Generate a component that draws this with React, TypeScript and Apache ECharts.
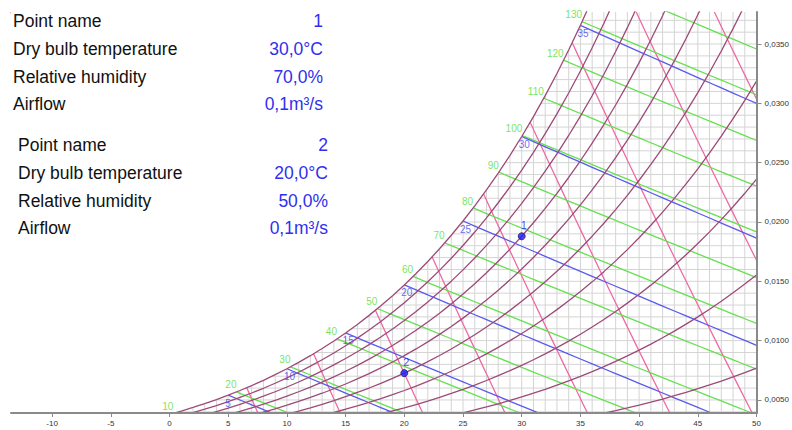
import { useEffect, useRef } from 'react';
import * as echarts from 'echarts';

// Barometric pressure used for all psychrometric relations (kPa)
const PRESSURE_KPA = 101.325;

// Saturation vapour pressure of water over liquid, 0..50 °C (kPa)
const TEMPS_C = [
  0, 1, 2, 3, 4, 5, 6, 7, 8, 9, 10, 11, 12, 13, 14, 15, 16, 17, 18, 19, 20, 21, 22, 23, 24, 25,
  26, 27, 28, 29, 30, 31, 32, 33, 34, 35, 36, 37, 38, 39, 40, 41, 42, 43, 44, 45, 46, 47, 48, 49, 50,
];
const SAT_PRESSURE_KPA = [
  0.6112, 0.6571, 0.706, 0.7581, 0.8135, 0.8725, 0.9353, 1.002, 1.0728, 1.1481, 1.228, 1.3127,
  1.4026, 1.4978, 1.5987, 1.7055, 1.8184, 1.938, 2.0643, 2.1978, 2.3388, 2.4877, 2.6448, 2.8104,
  2.9851, 3.1692, 3.3631, 3.5673, 3.7822, 4.0083, 4.246, 4.4959, 4.7585, 5.0343, 5.3239, 5.6278,
  5.9466, 6.281, 6.6315, 6.9987, 7.3835, 7.7863, 8.208, 8.6492, 9.1107, 9.5932, 10.0976, 10.6246,
  11.1751, 11.75, 12.3499,
];

// Families of chart lines
const RH_LEVELS = [10, 20, 30, 40, 50, 60, 70, 80, 90, 100]; // %
const ENTHALPY_LEVELS = [10, 20, 30, 40, 50, 60, 70, 80, 90, 100, 110, 120, 130, 140]; // kJ/kg
const WET_BULB_LEVELS = [5, 10, 15, 20, 25, 30, 35]; // °C
const VOLUME_LEVELS = [0.78, 0.8, 0.82, 0.84, 0.86, 0.88, 0.9, 0.92, 0.94, 0.96]; // m³/kg

// Air state points
const POINT_NAMES = ['1', '2'];
const POINT_DRY_BULB = [30, 20]; // °C
const POINT_RH = [70, 50]; // %
const POINT_AIRFLOW = [0.1, 0.1]; // m³/s

// Axes
const X_TICKS = [-10, -5, 0, 5, 10, 15, 20, 25, 30, 35, 40, 45, 50];
const Y_TICKS = [0.005, 0.01, 0.015, 0.02, 0.025, 0.03, 0.035];
const X_MIN = -13.5;
const X_MAX = 50;
const Y_MIN = 0.0039;
const Y_MAX = 0.0377;

const COLORS = {
  grid: '#d4d4d4',
  axis: '#8a8a8a',
  rh: '#9c4a78',
  enthalpy: '#66e050',
  enthalpyText: '#55dd33',
  wetBulb: '#5a5af0',
  wetBulbText: '#4646ee',
  volume: '#ee6aa2',
  point: '#1a1aff',
  value: '#2f2ff0',
};

const humidityRatio = (pv: number) => (0.622 * pv) / (PRESSURE_KPA - pv);
const enthalpy = (t: number, w: number) => 1.006 * t + w * (2501 + 1.86 * t);
const wFromEnthalpy = (h: number, t: number) => (h - 1.006 * t) / (2501 + 1.86 * t);
const wOnWetBulb = (t: number, twb: number, wsWb: number) =>
  ((2501 - 2.326 * twb) * wsWb - 1.006 * (t - twb)) / (2501 + 1.86 * t - 4.186 * twb);
const tOnVolume = (v: number, w: number) => (v * PRESSURE_KPA) / (0.287 * (1 + 1.6078 * w)) - 273.15;

const W_SAT = SAT_PRESSURE_KPA.map(humidityRatio);
const H_SAT = TEMPS_C.map((t, i) => enthalpy(t, W_SAT[i]));

// Where an enthalpy line leaves the saturation curve
function enthalpyStart(h: number): [number, number] | null {
  for (let i = 0; i < TEMPS_C.length - 1; i++) {
    if (h >= H_SAT[i] && h <= H_SAT[i + 1]) {
      const f = (h - H_SAT[i]) / (H_SAT[i + 1] - H_SAT[i]);
      const t = TEMPS_C[i] + f * (TEMPS_C[i + 1] - TEMPS_C[i]);
      return [t, wFromEnthalpy(h, t)];
    }
  }
  return null;
}

const fmt = (v: number, d: number) => v.toFixed(d).replace('.', ',');

function buildOption() {
  const series: any[] = [];

  // Fine 1 °C x 0.001 kg/kg grid
  const gridLines: number[][] = [];
  for (let t = Math.ceil(X_MIN); t <= X_MAX; t++) gridLines.push([t, Y_MIN, t, Y_MAX]);
  for (let k = Math.ceil(Y_MIN * 1000); k <= Math.floor(Y_MAX * 1000); k++)
    gridLines.push([X_MIN, k / 1000, X_MAX, k / 1000]);
  series.push({
    type: 'custom',
    z: 1,
    silent: true,
    clip: true,
    data: gridLines,
    encode: { x: [0, 2], y: [1, 3] },
    renderItem: (_p: any, api: any) => {
      const a = api.coord([api.value(0), api.value(1)]);
      const b = api.coord([api.value(2), api.value(3)]);
      return {
        type: 'line',
        shape: { x1: a[0], y1: a[1], x2: b[0], y2: b[1] },
        style: { stroke: COLORS.grid, lineWidth: 1 },
      };
    },
  });

  const lineSeries = (data: number[][], color: string, z: number) => ({
    type: 'line',
    data,
    z,
    silent: true,
    clip: true,
    symbol: 'none',
    showSymbol: false,
    lineStyle: { color, width: 1.3 },
  });

  // Specific volume lines, from the bottom of the plot up to its top edge
  VOLUME_LEVELS.forEach((v) => {
    const pts: number[][] = [];
    for (let k = 3; k < Y_MAX * 1000; k++) {
      const w = k / 1000;
      pts.push([tOnVolume(v, w), w]);
    }
    pts.push([tOnVolume(v, Y_MAX), Y_MAX]);
    series.push(lineSeries(pts, COLORS.volume, 2));
  });

  // Enthalpy lines, starting on the saturation curve
  ENTHALPY_LEVELS.forEach((h) => {
    const start = enthalpyStart(h);
    if (!start) return;
    const pts = [start, ...TEMPS_C.filter((t) => t > start[0]).map((t) => [t, wFromEnthalpy(h, t)])];
    series.push(lineSeries(pts, COLORS.enthalpy, 2));
  });

  // Wet bulb lines
  WET_BULB_LEVELS.forEach((twb) => {
    const ws = W_SAT[TEMPS_C.indexOf(twb)];
    const pts = TEMPS_C.filter((t) => t >= twb).map((t) => [t, wOnWetBulb(t, twb, ws)]);
    series.push(lineSeries(pts, COLORS.wetBulb, 2));
  });

  // Blank out the grid above the saturation curve
  const maskPts: number[][] = [[X_MIN - 1, 1], [X_MIN - 1, 0], [TEMPS_C[0], 0]];
  TEMPS_C.forEach((t, i) => maskPts.push([t, W_SAT[i]]));
  maskPts.push([X_MAX + 1, W_SAT[W_SAT.length - 1]], [X_MAX + 1, 1]);
  series.push({
    type: 'custom',
    z: 3,
    silent: true,
    clip: true,
    data: [[X_MIN, Y_MIN]],
    renderItem: (_p: any, api: any) => ({
      type: 'polygon',
      shape: { points: maskPts.map((p) => api.coord(p)) },
      style: { fill: '#ffffff' },
    }),
  });

  // Relative humidity curves
  RH_LEVELS.forEach((rh) => {
    const pts = TEMPS_C.map((t, i) => [t, humidityRatio((SAT_PRESSURE_KPA[i] * rh) / 100)]);
    series.push(lineSeries(pts, COLORS.rh, 4));
  });

  // Enthalpy labels at the saturation curve
  const hLabels = ENTHALPY_LEVELS.map((h) => ({ h, p: enthalpyStart(h) }))
    .filter((d) => d.p && d.p[1] <= Y_MAX)
    .map((d) => ({ name: String(d.h), value: d.p as number[] }));
  series.push({
    type: 'scatter',
    z: 5,
    silent: true,
    clip: false,
    symbolSize: 0,
    data: hLabels,
    label: {
      show: true,
      formatter: '{b}',
      position: [0, -2],
      align: 'right',
      verticalAlign: 'bottom',
      color: COLORS.enthalpyText,
      fontSize: 10,
    },
  });

  // Wet bulb labels
  series.push({
    type: 'scatter',
    z: 5,
    silent: true,
    clip: false,
    symbolSize: 0,
    data: WET_BULB_LEVELS.map((twb) => ({
      name: String(twb),
      value: [twb, W_SAT[TEMPS_C.indexOf(twb)]],
    })),
    label: {
      show: true,
      formatter: '{b}',
      position: [-3, 3],
      align: 'left',
      verticalAlign: 'top',
      color: COLORS.wetBulbText,
      fontSize: 10,
    },
  });

  // State points
  series.push({
    type: 'scatter',
    z: 6,
    silent: true,
    symbol: 'circle',
    symbolSize: 7,
    itemStyle: { color: COLORS.point, borderColor: '#202060', borderWidth: 1 },
    data: POINT_NAMES.map((n, i) => {
      const t = POINT_DRY_BULB[i];
      const ps = SAT_PRESSURE_KPA[TEMPS_C.indexOf(t)];
      return { name: n, value: [t, humidityRatio((ps * POINT_RH[i]) / 100)] };
    }),
    label: {
      show: true,
      formatter: '{b}',
      position: 'top',
      distance: 2,
      offset: [2, 0],
      color: COLORS.point,
      fontSize: 11,
    },
  });

  // Point information blocks
  const font = '17.5px "Liberation Sans", Arial, sans-serif';
  const blocks = [
    { x: 13, right: 323, rows: [21, 49, 77, 104] },
    { x: 18, right: 328, rows: [145, 173, 201, 228] },
  ];
  const graphics: any[] = [];
  POINT_NAMES.forEach((name, i) => {
    const b = blocks[i];
    const labels = ['Point name', 'Dry bulb temperature', 'Relative humidity', 'Airflow'];
    const values = [
      name,
      `${fmt(POINT_DRY_BULB[i], 1)}°C`,
      `${fmt(POINT_RH[i], 1)}%`,
      `${fmt(POINT_AIRFLOW[i], 1)}m³/s`,
    ];
    labels.forEach((lab, r) => {
      graphics.push({
        type: 'text',
        z: 100,
        x: b.x,
        y: b.rows[r],
        style: { text: lab, font, fill: '#111111', textAlign: 'left', textVerticalAlign: 'middle' },
      });
      graphics.push({
        type: 'text',
        z: 100,
        x: b.right,
        y: b.rows[r],
        style: { text: values[r], font, fill: COLORS.value, textAlign: 'right', textVerticalAlign: 'middle' },
      });
    });
  });

  return {
    animation: false,
    backgroundColor: '#ffffff',
    textStyle: { fontFamily: '"Liberation Sans", Arial, sans-serif' },
    grid: { left: 11, right: 35, top: 12, bottom: 17, containLabel: false },
    xAxis: {
      type: 'value',
      min: X_MIN,
      max: X_MAX,
      z: 10,
      axisLine: { show: true, onZero: false, lineStyle: { color: COLORS.axis, width: 2 } },
      axisTick: { show: true, customValues: X_TICKS, length: 4, lineStyle: { color: COLORS.axis } },
      axisLabel: { customValues: X_TICKS, fontSize: 8, color: '#333333', margin: 6 },
      splitLine: { show: false },
    },
    yAxis: {
      type: 'value',
      position: 'right',
      min: Y_MIN,
      max: Y_MAX,
      z: 10,
      axisLine: { show: true, onZero: false, lineStyle: { color: COLORS.axis, width: 2 } },
      axisTick: { show: true, customValues: Y_TICKS, length: 5, lineStyle: { color: COLORS.axis } },
      axisLabel: {
        customValues: Y_TICKS,
        fontSize: 8,
        color: '#333333',
        margin: 8,
        formatter: (v: number) => fmt(v, 4),
      },
      splitLine: { show: false },
    },
    graphic: { elements: graphics },
    series,
  };
}

export default function App() {
  const ref = useRef<HTMLDivElement>(null);
  useEffect(() => {
    if (!ref.current) return;
    const chart = echarts.init(ref.current, undefined, { renderer: 'svg' });
    chart.setOption(buildOption() as any);
    return () => chart.dispose();
  }, []);
  return (
    <div
      ref={ref}
      style={{ position: 'fixed', left: 0, top: 0, width: 792, height: 430, background: '#fff' }}
    />
  );
}
